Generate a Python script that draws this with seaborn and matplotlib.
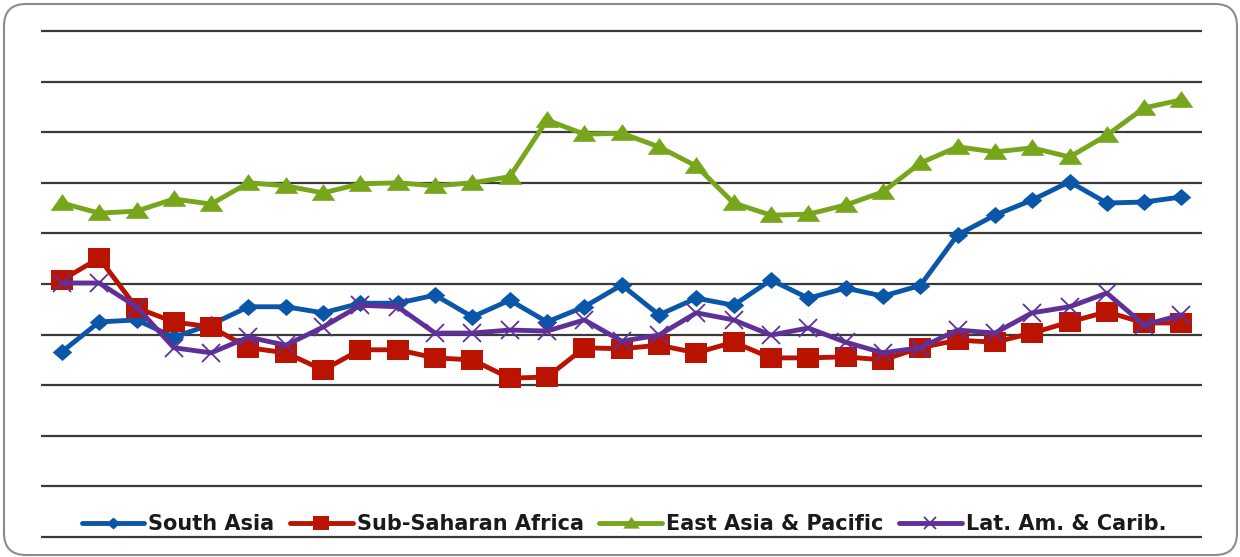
import numpy as np
import pandas as pd
import seaborn as sns
import matplotlib
matplotlib.use("Agg")
import matplotlib.pyplot as plt
from matplotlib.patches import FancyBboxPatch
from matplotlib.transforms import IdentityTransform

# Period index (31 observations)
periods = list(range(31))

south_asia = [3.66, 4.25, 4.29, 3.95, 4.20, 4.55, 4.55, 4.43, 4.62, 4.62, 4.78,
              4.35, 4.68, 4.25, 4.55, 4.98, 4.39, 4.72, 4.58, 5.08, 4.72, 4.92,
              4.76, 4.97, 5.97, 6.36, 6.66, 7.02, 6.60, 6.62, 6.72]
sub_saharan_africa = [5.08, 5.51, 4.53, 4.25, 4.15, 3.74, 3.64, 3.30, 3.70, 3.70, 3.54,
                      3.50, 3.14, 3.16, 3.74, 3.72, 3.79, 3.64, 3.85, 3.54, 3.54, 3.56,
                      3.50, 3.74, 3.89, 3.85, 4.03, 4.25, 4.45, 4.23, 4.23]
east_asia_pacific = [6.60, 6.40, 6.44, 6.68, 6.58, 7.00, 6.94, 6.80, 6.98, 7.00, 6.94,
                     7.00, 7.12, 8.24, 7.96, 7.98, 7.71, 7.33, 6.60, 6.36, 6.38, 6.56,
                     6.82, 7.39, 7.71, 7.61, 7.69, 7.51, 7.94, 8.48, 8.64]
lat_am_carib = [5.02, 5.02, 4.55, 3.74, 3.64, 3.95, 3.79, 4.15, 4.58, 4.55, 4.03,
                4.03, 4.09, 4.07, 4.29, 3.87, 3.99, 4.43, 4.29, 3.99, 4.13, 3.85,
                3.64, 3.74, 4.09, 4.03, 4.43, 4.55, 4.82, 4.19, 4.39]

series_names = ["South Asia", "Sub-Saharan Africa", "East Asia & Pacific", "Lat. Am. & Carib."]
grid_levels = list(range(11))

df = pd.DataFrame({
    "period": periods * 4,
    "value": south_asia + sub_saharan_africa + east_asia_pacific + lat_am_carib,
    "region": sum([[n] * len(periods) for n in series_names], []),
})

sns.set_theme(style="white")
plt.rcParams["font.family"] = ["DejaVu Sans"]

W, H = 1240, 557
fig = plt.figure(figsize=(W / 100, H / 100), dpi=100)

pad = 0.06
px_per_unit = 50.6
ax_left, ax_right = 41, 1202
ax_top = 31 - pad * px_per_unit
ax_bot = 537 + pad * px_per_unit
ax = fig.add_axes([ax_left / W, (H - ax_bot) / H, (ax_right - ax_left) / W, (ax_bot - ax_top) / H])

# marker shapes (slightly wider than tall)
diamond = [(0, 0.88), (1, 0), (0, -0.88), (-1, 0)]
square = [(-1, -0.86), (1, -0.86), (1, 0.86), (-1, 0.86)]
triangle = [(-1, -0.62), (1, -0.62), (0, 0.80)]

styles = {
    "South Asia": dict(color="#0A56A8", marker=diamond, markersize=14),
    "Sub-Saharan Africa": dict(color="#BA1300", marker=square, markersize=16),
    "East Asia & Pacific": dict(color="#77A51B", marker=triangle, markersize=17),
    "Lat. Am. & Carib.": dict(color="#5F3198", marker="x", markersize=13, markeredgewidth=1.3),
}

for name in series_names:
    st = styles[name]
    sub = df[df["region"] == name]
    sns.lineplot(data=sub, x="period", y="value", ax=ax, label=name,
                 color=st["color"], marker=st["marker"], markersize=st["markersize"],
                 markeredgewidth=st.get("markeredgewidth", 0),
                 markeredgecolor=st["color"], markerfacecolor=st["color"],
                 linewidth=3.5, solid_joinstyle="round", solid_capstyle="round",
                 zorder=3)

ax.set_xlim(-0.56, 30.55)
ax.set_ylim(-pad, 10 + pad)
ax.set_yticks(grid_levels)
ax.set_xticks([])
ax.tick_params(left=False, bottom=False, labelleft=False, labelbottom=False)
ax.yaxis.grid(True, color="#3a3a3a", linewidth=1.6)
ax.xaxis.grid(False)
for s in ax.spines.values():
    s.set_visible(False)
ax.set_xlabel("")
ax.set_ylabel("")
ax.patch.set_alpha(0)

leg = ax.legend(loc="center", bbox_to_anchor=(624 / W, (H - 524) / H),
                bbox_transform=fig.transFigure, ncol=4, frameon=False,
                prop={"family": "DejaVu Sans", "weight": "bold", "size": 15},
                handlelength=3.0, handletextpad=0.2, columnspacing=0.75,
                markerscale=0.7, borderaxespad=0)
for t in leg.get_texts():
    t.set_color("#1a1a1a")

# rounded outer frame
frame = FancyBboxPatch((4, 2), 1233, 551, boxstyle="round,pad=0,rounding_size=22",
                       transform=IdentityTransform(), facecolor="none",
                       edgecolor="#8c8c8c", linewidth=1.5, zorder=0)
fig.add_artist(frame)

fig.savefig("out.png", dpi=100)
